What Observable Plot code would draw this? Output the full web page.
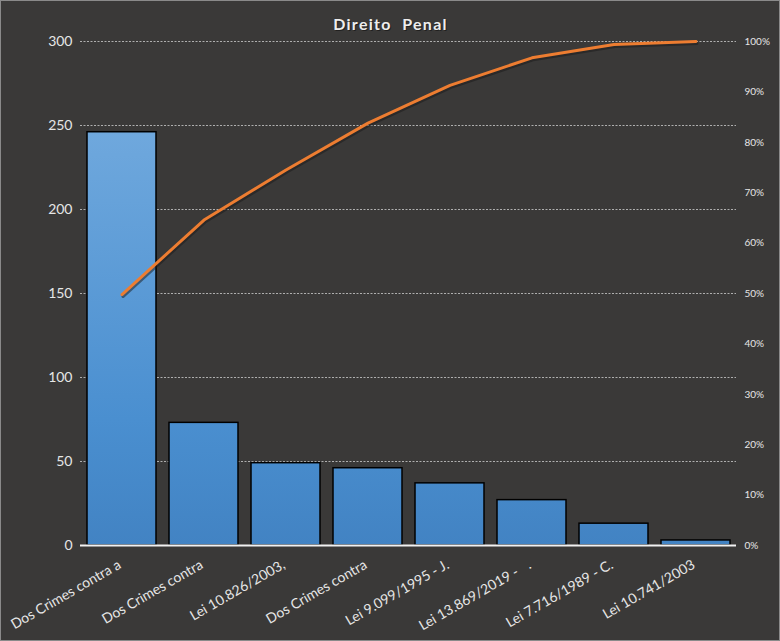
<!DOCTYPE html>
<html>
<head>
<meta charset="utf-8">
<script src="https://cdn.jsdelivr.net/npm/d3@7"></script>
<script src="https://cdn.jsdelivr.net/npm/@observablehq/plot@0.6"></script>
<style>
  html, body { margin: 0; padding: 0; background: #3a3938; }
  #chart svg { display: block; outline: 1px solid #8a8a8a; outline-offset: -1px; }
</style>
</head>
<body>
<div id="chart"></div>
<script>
const title = "Direito  Penal";
const categories = [
  "Dos Crimes contra a",
  "Dos Crimes contra",
  "Lei 10.826/2003,",
  "Dos Crimes contra ",
  "Lei 9.099/1995 - J.",
  "Lei 13.869/2019 -   .",
  "Lei 7.716/1989 - C.",
  "Lei 10.741/2003"
];
const counts = [246, 73, 49, 46, 37, 27, 13, 3];
const yTicks = [0, 50, 100, 150, 200, 250, 300];
const pctTicks = [0, 10, 20, 30, 40, 50, 60, 70, 80, 90, 100];

const total = d3.sum(counts);
let run = 0;
const rows = categories.map((c, i) => {
  run += counts[i];
  return {cat: c, count: counts[i], cumPct: run / total * 100};
});

const font = "Lato, 'Open Sans', sans-serif";
const textColor = "#e6e6e6";

const plot = Plot.plot({
  width: 780,
  height: 641,
  marginLeft: 80,
  marginRight: 44,
  marginTop: 41,
  marginBottom: 96,
  style: {background: "#3a3938", fontFamily: font, color: textColor},
  x: {domain: categories, paddingInner: 0.16, paddingOuter: 0.08, axis: null},
  y: {domain: [0, 300], axis: null},
  marks: [
    Plot.ruleY(yTicks.filter(d => d > 0), {stroke: "#bdbdbd", strokeWidth: 1, strokeDasharray: "2,1.5", strokeOpacity: 0.9}),
    Plot.ruleX([0], {frameAnchor: "left", stroke: "#a6a6a6", strokeWidth: 1.5}),
    Plot.ruleX([0], {frameAnchor: "right", stroke: "#a6a6a6", strokeWidth: 1.5}),
    Plot.barY(rows, {x: "cat", y: "count", fill: "url(#barGrad)", stroke: "#000", strokeWidth: 1.5}),
    Plot.ruleY([0], {stroke: "#f2f2f2", strokeWidth: 2}),
    Plot.line(rows, {x: "cat", y: d => d.cumPct * 3, stroke: "#1a1a1a", strokeWidth: 3, strokeOpacity: 0.5, dx: 1, dy: 2}),
    Plot.line(rows, {x: "cat", y: d => d.cumPct * 3, stroke: "#ed7d31", strokeWidth: 3}),
    Plot.text(yTicks, {y: d => d, frameAnchor: "left", dx: -8, textAnchor: "end", text: d => String(d), fontSize: 14, fill: textColor}),
    Plot.text(pctTicks, {y: d => d * 3, frameAnchor: "right", dx: 8, textAnchor: "start", text: d => d + "%", fontSize: 10, fill: textColor}),
    Plot.text(categories, {x: d => d, frameAnchor: "bottom", dy: 22, rotate: -30, textAnchor: "end", text: d => d.trimEnd(), fontSize: 14, fill: textColor}),
    Plot.text([title], {frameAnchor: "top", dx: -17, dy: -22, text: d => d, fontSize: 16, fontWeight: "bold", fill: "#111", opacity: 0.6, className: "ttl"}),
    Plot.text([title], {frameAnchor: "top", dx: -18, dy: -23, text: d => d, fontSize: 16, fontWeight: "bold", fill: "#eeeeee", className: "ttl"})
  ]
});

// gradient spanning the plot height (same colour at same height for every bar)
const ys = plot.scale("y");
const y1 = ys.apply(300), y2 = ys.apply(0);
const svg = d3.select(plot.tagName === "svg" ? plot : plot.querySelector("svg"));
const defs = svg.insert("defs", ":first-child");
const g = defs.append("linearGradient").attr("id", "barGrad")
  .attr("gradientUnits", "userSpaceOnUse")
  .attr("x1", 0).attr("x2", 0).attr("y1", y1).attr("y2", y2);
g.append("stop").attr("offset", "0%").attr("stop-color", "#7db2e3");
g.append("stop").attr("offset", "18%").attr("stop-color", "#6fa8dd");
g.append("stop").attr("offset", "75%").attr("stop-color", "#4a8fd0");
g.append("stop").attr("offset", "100%").attr("stop-color", "#4283c3");
svg.selectAll(".ttl text").style("letter-spacing", "1.3px");
document.getElementById("chart").appendChild(plot);
</script>
</body>
</html>
